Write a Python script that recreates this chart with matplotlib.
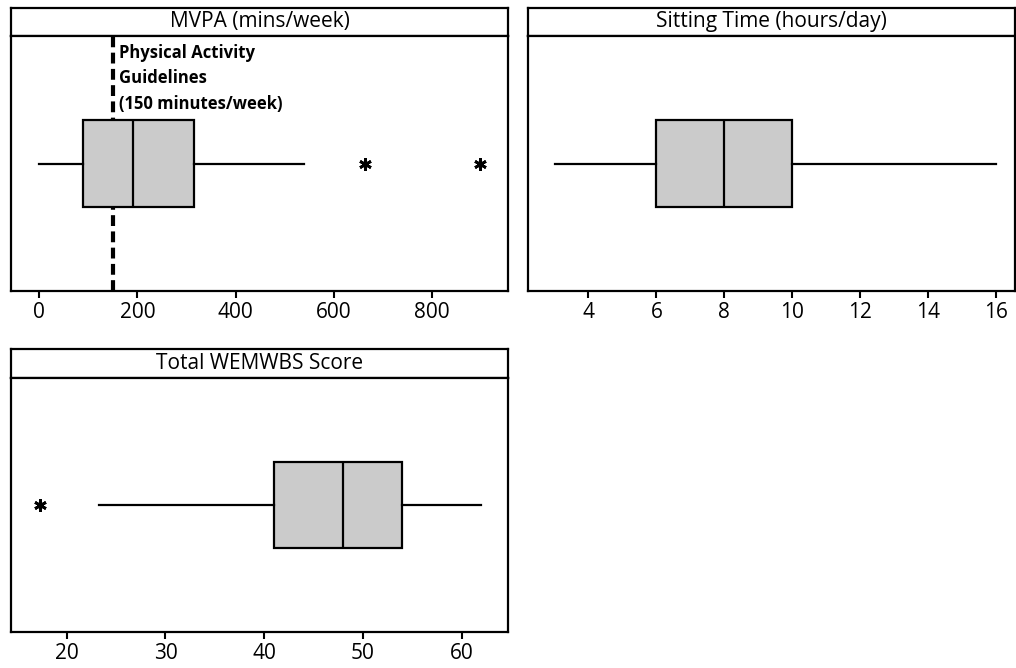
import matplotlib
matplotlib.use("Agg")
import matplotlib.pyplot as plt

plt.rcParams['font.family'] = ['Open Sans', 'DejaVu Sans']

# Five-number summaries (whisker low, Q1, median, Q3, whisker high) and outliers
mvpa_stats = [0, 90, 192, 315, 540]
mvpa_outliers = [663, 897]
mvpa_guideline = 150
mvpa_ticks = [0, 200, 400, 600, 800]

sitting_stats = [3, 6, 8, 10, 16]
sitting_outliers = []
sitting_ticks = [4, 6, 8, 10, 12, 14, 16]

wemwbs_stats = [23.3, 41, 48, 54, 62]
wemwbs_outliers = [17.3]
wemwbs_ticks = [20, 30, 40, 50, 60]

titles = ["MVPA (mins/week)", "Sitting Time (hours/day)", "Total WEMWBS Score"]
guideline_text = ["Physical Activity", "Guidelines", "(150 minutes/week)"]

W, H = 1016, 668
fig = plt.figure(figsize=(W / 100, H / 100), dpi=100)


def px_axes(x0, x1, y0, y1):
    return fig.add_axes([x0 / W, 1 - y1 / H, (x1 - x0) / W, (y1 - y0) / H])


def panel(x0, x1, strip_top, strip_bot, plot_bot, stats, outliers, ticks, xlim, title):
    strip = px_axes(x0, x1, strip_top, strip_bot)
    strip.set_xticks([])
    strip.set_yticks([])
    for s in strip.spines.values():
        s.set_linewidth(1.6)
    strip.text(0.5, 0.5, title, ha='center', va='center', fontsize=15,
               transform=strip.transAxes)

    ax = px_axes(x0, x1, strip_bot, plot_bot)
    lo, q1, med, q3, hi = stats
    bstats = [dict(whislo=lo, q1=q1, med=med, q3=q3, whishi=hi, fliers=outliers)]
    ax.bxp(bstats, positions=[0], orientation='horizontal', widths=0.68,
           patch_artist=True, showcaps=False,
           boxprops=dict(facecolor='#cbcbcb', edgecolor='black', linewidth=1.6),
           medianprops=dict(color='black', linewidth=1.6),
           whiskerprops=dict(color='black', linewidth=1.6),
           flierprops=dict(marker=(6, 2, 0), markersize=9, markeredgewidth=2.0,
                           markeredgecolor='black', markerfacecolor='black'))
    ax.set_ylim(-1, 1)
    ax.set_yticks([])
    ax.set_xlim(*xlim)
    ax.set_xticks(ticks)
    ax.set_xticklabels([str(t) for t in ticks], fontsize=15)
    ax.tick_params(axis='x', direction='out', length=5, width=1.5, pad=3)
    for s in ax.spines.values():
        s.set_linewidth(1.6)
    return ax


ax1 = panel(11, 508, 8, 36, 291, mvpa_stats, mvpa_outliers, mvpa_ticks,
            (-57, 954), titles[0])
ax1.axvline(mvpa_guideline, color='black', linewidth=3, linestyle=(0, (2.6, 1.3)),
            zorder=1)
for i, line in enumerate(guideline_text):
    ax1.text(mvpa_guideline + 13, 0.87 - i * 0.2, line, fontsize=12,
             fontweight='bold', ha='left', va='center')

panel(528, 1015, 8, 36, 291, sitting_stats, sitting_outliers, sitting_ticks,
      (2.22, 16.55), titles[1])

panel(11, 508, 349, 378, 632, wemwbs_stats, wemwbs_outliers, wemwbs_ticks,
      (14.36, 64.69), titles[2])

fig.savefig("out.png", dpi=100)
